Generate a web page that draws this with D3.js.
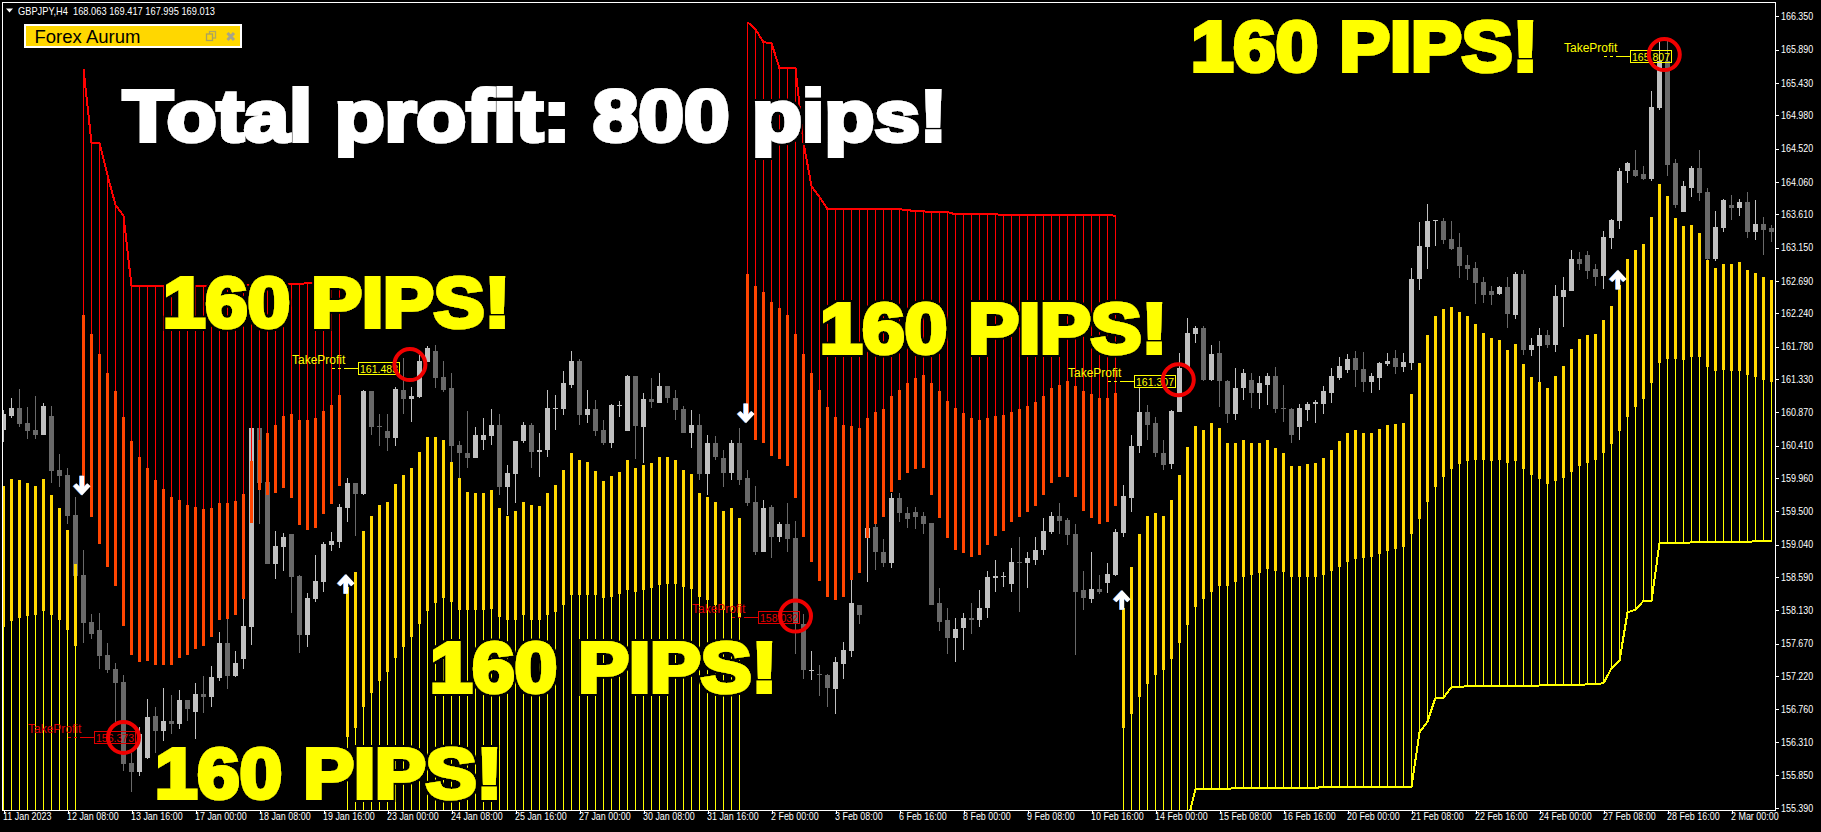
<!DOCTYPE html>
<html>
<head>
<meta charset="utf-8">
<style>
html,body{margin:0;padding:0;background:#000;overflow:hidden}
svg{display:block}
text{font-family:"Liberation Sans",Arial,sans-serif}
</style>
<script src="https://cdnjs.cloudflare.com/ajax/libs/d3/7.8.5/d3.min.js"></script>
</head>
<body>
<script>
const symbolTitle = "GBPJPY,H4  168.063 169.417 167.995 169.013";
const panelTitle = "Forex Aurum";
const mainCaption = "Total profit: 800 pips!";
const pipsCaption = "160 PIPS!";

const xTickBars = [0,8,16,24,32,40,48,56,64,72,80,88,96,104,112,120,128,136,144,152,160,168,176,184,192,200,208,216];
const xTickLabels = ["11 Jan 2023","12 Jan 08:00","13 Jan 16:00","17 Jan 00:00","18 Jan 08:00","19 Jan 16:00","23 Jan 00:00","24 Jan 08:00","25 Jan 16:00","27 Jan 00:00","30 Jan 08:00","31 Jan 16:00","2 Feb 00:00","3 Feb 08:00","6 Feb 16:00","8 Feb 00:00","9 Feb 08:00","10 Feb 16:00","14 Feb 00:00","15 Feb 08:00","16 Feb 16:00","20 Feb 00:00","21 Feb 08:00","22 Feb 16:00","24 Feb 00:00","27 Feb 08:00","28 Feb 16:00","2 Mar 00:00"];
const yTicks = [166.35,165.89,165.43,164.98,164.52,164.06,163.61,163.15,162.69,162.24,161.78,161.33,160.87,160.41,159.96,159.50,159.04,158.59,158.13,157.67,157.22,156.76,156.31,155.85,155.39];

const candleDirections = "uudddudddd"+"ddddddduud"+"udududuudu"+"uudduudduu"+"uuuududddu"+"duuudddddu"+"uuduuuduuu"+"uududduuud"+"ududddudud"+"dudddududd"+"dudduuudud"+"dudddddddu"+"uduuuuuduu"+"uudddduduu"+"uuuddduuuu"+"dudduuduud"+"dduuuuuuud"+"duuuduuuuu"+"dddddddudu"+"duuduuuddd"+"uuuudduudd"+"uudduudududd";

const highs = [
160.90,161.07,161.19,160.94,161.09,161.00,160.96,160.29,160.10,159.70,
158.96,158.08,158.09,157.68,157.40,157.23,156.15,156.51,156.90,156.79,
157.05,156.96,157.03,156.89,157.12,157.22,157.36,157.83,158.01,157.57,
158.29,160.65,160.65,160.07,159.23,159.20,159.18,158.62,158.37,158.89,
159.07,159.21,159.60,159.96,159.89,161.18,161.16,160.85,160.85,161.22,
161.62,161.22,161.66,161.79,161.80,161.58,161.41,160.47,160.89,160.66,
160.79,160.92,160.85,160.14,160.47,160.73,160.72,160.59,161.18,161.11,
161.44,161.72,161.61,161.18,161.04,160.76,160.99,161.03,161.38,161.37,
161.14,161.34,161.41,161.23,161.18,160.96,160.90,160.85,160.56,160.54,
160.35,160.48,160.65,160.07,159.85,159.65,159.59,159.35,159.61,159.37,
158.08,157.56,157.37,157.25,157.49,157.69,158.55,158.21,159.32,159.32,
159.11,159.75,159.75,159.56,159.56,159.49,159.34,158.44,158.16,158.02,
158.09,158.23,158.41,158.68,158.82,158.66,158.99,159.15,158.93,159.14,
159.41,159.49,159.62,159.41,159.32,158.68,158.93,158.62,158.79,159.25,
159.86,160.55,161.20,160.97,160.80,160.49,160.90,161.69,162.17,162.06,
162.06,161.80,161.85,161.32,161.48,161.47,161.42,161.37,161.42,161.49,
161.25,160.93,160.99,161.01,161.04,161.24,161.48,161.63,161.68,161.72,
161.70,161.42,161.56,161.69,161.73,161.69,162.87,163.50,163.75,163.53,
163.56,163.52,163.35,163.05,162.95,162.74,162.62,162.62,162.74,162.81,
162.84,161.90,162.04,162.01,162.63,162.74,163.12,163.09,163.10,162.92,
163.38,163.54,164.25,164.33,164.50,164.28,165.32,166.01,166.02,164.37,
164.07,164.28,164.50,163.97,163.65,163.82,163.88,163.82,163.92,163.81,163.57,163.46];

const bodyTops = [
160.85,160.93,160.93,160.72,160.62,160.96,160.82,160.07,160.00,159.45,
158.62,157.97,157.86,157.51,157.32,157.14,156.02,156.42,156.65,156.67,
156.60,156.60,156.89,156.89,156.97,156.97,157.21,157.68,157.68,157.40,
157.91,160.65,160.65,159.91,159.02,159.14,159.18,158.60,158.30,158.53,
159.05,159.09,159.56,159.89,159.89,161.16,161.16,160.68,160.61,161.19,
161.18,161.09,161.58,161.76,161.72,161.36,161.20,160.42,160.31,160.55,
160.55,160.70,160.70,160.03,160.47,160.69,160.69,160.35,160.93,160.93,
161.27,161.58,161.58,160.92,160.92,160.62,160.97,160.97,161.37,161.37,
161.06,161.06,161.23,161.23,161.07,160.92,160.69,160.69,160.45,160.45,
160.24,160.45,160.45,159.96,159.63,159.55,159.56,159.33,159.33,159.13,
157.94,157.31,157.25,157.24,157.41,157.58,158.23,158.21,159.27,159.28,
158.94,159.69,159.69,159.48,159.49,159.44,159.34,158.23,157.99,157.87,
158.03,158.03,158.16,158.59,158.61,158.61,158.80,158.80,158.85,158.97,
159.23,159.44,159.44,159.38,159.18,158.41,158.42,158.42,158.63,159.21,
159.71,160.41,160.87,160.87,160.72,160.31,160.89,161.48,161.97,162.03,
162.04,161.68,161.69,161.31,161.20,161.41,161.32,161.27,161.37,161.37,
160.93,160.92,160.93,160.99,161.01,161.16,161.37,161.51,161.61,161.62,
161.47,161.37,161.55,161.58,161.62,161.57,162.71,163.17,163.52,163.53,
163.52,163.27,163.16,162.91,162.87,162.67,162.55,162.60,162.60,162.78,
162.78,161.80,161.94,161.94,162.48,162.56,162.99,162.99,163.05,162.85,
163.30,163.53,164.21,164.32,164.22,164.17,165.09,165.73,165.73,164.32,
164.00,164.25,164.25,163.92,163.43,163.81,163.74,163.78,163.78,163.47,163.47,163.42];

const bodyBottoms = [
160.62,160.82,160.71,160.61,160.55,160.55,160.06,159.99,159.43,158.60,
157.95,157.80,157.50,157.30,157.12,156.00,155.89,155.89,156.08,156.46,
156.46,156.55,156.55,156.76,156.72,156.93,156.93,157.19,157.22,157.22,
157.45,157.90,159.89,158.77,158.77,159.00,158.59,157.79,157.79,158.28,
158.52,159.03,159.07,159.54,159.74,159.74,160.67,160.67,160.51,160.51,
161.05,161.05,161.08,161.57,161.34,161.18,160.41,160.30,160.24,160.24,
160.49,160.54,159.83,159.83,160.01,160.47,160.32,160.32,160.35,160.92,
160.92,161.25,160.83,160.83,160.61,160.44,160.44,160.96,160.61,160.68,
160.66,161.01,161.00,161.07,160.90,160.59,160.59,160.01,160.01,160.25,
160.03,160.03,159.94,159.62,158.94,158.94,159.15,159.15,159.11,157.94,
157.30,157.30,157.23,157.06,157.04,157.39,157.56,158.07,159.13,158.94,
158.79,158.79,159.47,159.40,159.42,159.32,158.21,157.97,157.75,157.75,
157.89,157.99,157.99,158.16,158.58,158.59,158.49,158.79,158.79,158.83,
158.96,159.21,159.37,159.17,158.39,158.30,158.28,158.38,158.51,158.62,
159.20,159.69,160.40,160.69,160.30,160.14,160.16,160.87,161.48,161.96,
161.32,161.32,161.31,160.85,160.85,161.20,161.14,161.14,161.25,160.92,
160.92,160.56,160.66,160.90,160.99,160.99,161.14,161.35,161.45,161.45,
161.29,161.29,161.34,161.54,161.50,161.50,161.55,162.71,163.16,163.52,
163.25,163.13,162.89,162.85,162.66,162.49,162.49,162.51,162.23,162.22,
161.73,161.73,161.79,161.80,161.80,162.46,162.55,162.92,162.82,162.74,
162.76,163.28,163.52,164.21,164.14,164.10,164.10,165.08,164.29,163.74,
163.64,163.97,163.90,162.99,162.99,163.42,163.70,163.70,163.36,163.36,163.39,163.36];

const lows = [
160.46,160.79,160.67,160.50,160.50,160.55,159.89,159.83,159.32,158.55,
157.68,157.73,157.32,157.26,156.58,155.90,155.61,155.84,156.07,156.15,
156.32,156.42,156.49,156.60,156.35,156.71,156.79,157.15,157.04,157.21,
157.32,157.65,159.32,158.77,158.56,158.67,158.09,157.54,157.62,158.24,
158.38,158.95,158.99,159.35,159.16,159.72,160.55,160.40,160.33,160.40,
160.85,160.73,161.07,161.57,161.21,161.15,160.17,159.96,160.10,160.24,
160.35,160.42,159.72,159.45,159.62,160.45,160.10,159.97,160.25,160.63,
160.83,161.21,160.70,160.72,160.54,160.42,160.38,160.80,160.61,160.23,
160.17,160.93,161.00,161.00,160.77,160.59,160.38,159.93,159.73,160.21,
159.83,159.93,159.87,159.58,158.89,158.94,158.86,159.08,158.94,157.53,
157.18,157.16,156.94,156.79,156.70,157.18,157.48,157.94,158.52,158.69,
158.73,158.72,159.35,159.27,159.25,159.18,158.21,157.85,157.52,157.41,
157.58,157.80,157.90,158.02,158.38,158.45,158.39,158.10,158.44,158.75,
158.89,159.18,159.18,159.03,157.51,158.14,158.23,158.35,158.37,158.61,
159.14,159.49,160.31,160.49,160.25,160.07,160.09,160.87,161.48,161.83,
161.30,161.30,160.94,160.72,160.76,161.04,160.93,160.92,160.97,160.86,
160.73,160.45,160.48,160.75,160.72,160.85,161.00,161.32,161.42,161.22,
161.15,161.14,161.18,161.51,161.40,161.43,161.45,162.56,162.85,163.17,
163.20,163.12,162.73,162.70,162.37,162.38,162.35,162.49,162.04,162.16,
161.66,161.65,161.29,161.76,161.70,162.05,162.55,162.84,162.71,162.62,
162.58,163.13,163.41,164.04,164.13,164.08,164.07,165.05,164.14,163.70,
163.64,163.85,163.79,162.97,162.97,163.36,163.53,163.59,163.28,163.25,163.05,163.23];

// Indicator: uptrend run A (bars 0-9)
const runAStart = 0;
const runATop = [159.85,159.95,159.93,159.89,159.85,159.95,159.72,159.54,159.24,158.77];
const runABottom = [157.90,157.98,158.02,158.05,158.06,158.12,158.06,157.99,157.86,157.63];

// Indicator: downtrend run B (bars 10-42)
const runBStart = 10;
const runBStop = [165.62,164.60,164.60,164.15,163.74,163.59,162.62,162.62,162.62,162.62,162.62,162.62,162.62,162.62,162.62,162.62,162.63,162.63,162.63,162.63,162.63,162.63,162.63,162.64,162.64,162.64,162.64,162.64,162.66,162.66,162.66,162.66,162.66];
const runBTop = [162.22,161.95,161.68,161.41,161.16,160.80,160.47,160.25,160.10,159.93,159.81,159.70,159.66,159.59,159.56,159.53,159.54,159.61,159.61,159.64,159.74,160.19,160.49,160.58,160.69,160.82,160.85,160.76,160.76,160.79,160.89,160.97,161.11];
const runBBottom = [159.82,159.42,159.05,158.73,158.47,157.91,157.51,157.41,157.43,157.37,157.37,157.37,157.47,157.51,157.59,157.63,157.76,157.99,158.01,158.06,158.29,159.34,159.79,159.72,159.75,159.82,159.68,159.31,159.24,159.27,159.46,159.60,159.85];

// Indicator: uptrend run C (bars 43-92)
const runCStart = 43;
const runCTop = [158.45,158.66,159.23,159.44,159.59,159.63,159.88,160.00,160.10,160.32,160.53,160.53,160.49,160.18,159.96,159.77,159.76,159.75,159.80,159.55,159.44,159.51,159.63,159.59,159.58,159.75,159.87,160.07,160.31,160.21,160.18,160.06,159.92,159.99,160.04,160.21,160.10,160.14,160.17,160.25,160.25,160.21,160.07,160.01,159.75,159.70,159.63,159.51,159.55,159.41];
const runCBottom = [156.37,156.50,156.79,156.98,157.15,157.27,157.47,157.62,157.76,157.94,158.12,158.23,158.30,158.25,158.14,158.13,158.14,158.14,158.15,158.04,157.99,157.99,158.06,158.00,157.99,158.06,158.11,158.21,158.34,158.34,158.34,158.34,158.30,158.32,158.35,158.41,158.38,158.41,158.44,158.48,158.49,158.49,158.45,158.42,158.31,158.27,158.21,158.13,158.13,158.04];

// Indicator: downtrend run D (bars 93-139)
const runDStart = 93;
const runDStop = [166.27,166.17,165.99,165.98,165.63,165.63,165.63,164.60,164.00,163.85,163.68,163.68,163.68,163.68,163.68,163.68,163.68,163.68,163.68,163.68,163.67,163.65,163.65,163.64,163.64,163.64,163.61,163.61,163.61,163.61,163.61,163.61,163.60,163.60,163.60,163.60,163.60,163.60,163.60,163.60,163.60,163.60,163.60,163.60,163.60,163.60,163.59];
const runDTop = [162.79,162.62,162.53,162.40,162.31,162.22,161.96,161.68,161.41,161.18,160.94,160.80,160.69,160.68,160.65,160.79,160.87,160.92,161.09,161.18,161.27,161.34,161.38,161.28,161.17,161.03,160.93,160.86,160.79,160.76,160.79,160.82,160.83,160.87,160.92,160.96,161.01,161.10,161.20,161.25,161.31,161.24,161.17,161.13,161.07,161.07,161.14];
const runDBottom = [160.85,160.48,160.44,160.27,160.23,160.13,159.68,159.15,158.80,158.53,158.31,158.27,158.31,158.55,158.65,159.13,159.32,159.42,159.77,159.93,160.03,160.08,160.10,159.73,159.41,159.13,158.96,158.92,158.87,158.89,159.04,159.16,159.23,159.35,159.42,159.49,159.58,159.72,159.89,159.97,159.97,159.70,159.51,159.41,159.32,159.35,159.58];

// Indicator: uptrend run E (bars 140-221)
const runEStart = 140;
const runETop = [158.16,158.73,159.18,159.44,159.47,159.44,159.66,160.00,160.39,160.68,160.63,160.72,160.65,160.45,160.44,160.49,160.45,160.45,160.49,160.38,160.30,160.13,160.13,160.16,160.17,160.24,160.35,160.47,160.59,
160.62,160.58,160.58,160.64,160.69,160.71,160.72,161.12,161.55,161.94,162.20,162.30,162.33,162.26,162.20,162.09,161.97,161.90,161.87,161.73,161.81,161.54,161.36,161.29,161.20,161.37,161.51,161.75,161.88,161.94,161.95,162.15,162.34,162.63,162.99,163.12,163.20,163.57,164.03,163.86,163.56,163.45,163.46,163.35,162.98,162.87,162.92,162.92,162.95,162.84,162.80,162.74,162.70];
const runEBottom = [156.50,156.69,156.93,157.11,157.23,157.31,157.46,157.68,157.93,158.17,158.28,158.39,158.46,158.46,158.52,158.59,158.62,158.65,158.70,158.68,158.66,158.59,158.59,158.59,158.59,158.62,158.68,158.73,158.80,
158.84,158.85,158.87,158.91,158.95,158.98,159.00,159.18,159.39,159.63,159.84,159.97,160.08,160.15,160.19,160.21,160.21,160.19,160.21,160.17,160.19,160.08,160.00,159.95,159.88,159.92,159.96,160.04,160.12,160.17,160.21,160.31,160.43,160.61,160.80,160.94,161.05,161.27,161.55,161.61,161.61,161.59,161.63,161.63,161.50,161.44,161.45,161.44,161.44,161.39,161.36,161.32,161.29];
const runEStop = [155.20,155.20,155.20,155.20,155.20,155.20,155.20,155.20,155.20,155.66,155.66,155.66,155.66,155.66,155.67,155.67,155.67,155.67,155.67,155.67,155.67,155.67,155.67,155.67,155.67,155.69,155.69,155.69,155.69,155.69,155.69,155.69,155.69,155.69,155.69,155.69,
155.69,156.44,156.59,156.92,156.92,157.07,157.07,157.08,157.08,157.08,157.08,157.08,157.08,157.08,157.08,157.08,157.09,157.09,157.09,157.09,157.09,157.09,157.11,157.11,157.12,157.33,157.43,158.10,158.14,158.26,158.26,159.06,159.06,159.06,159.06,159.07,159.07,159.07,159.07,159.07,159.07,159.07,159.07,159.09,159.09,159.09];
const offChartStop = 155.20;

// Trend arrows
const arrowBars = [10,43,93,140,202];
const arrowPrices = [159.86,158.49,160.86,158.27,162.70];
const arrowUp = [false,true,false,true,true];

// Take-profit labels
const tpLabels = ["156.373","161.483","158.032","161.307","165.807"];
const tpBars = [11,44,94,141,203];
const tpIsRed = [true,false,true,false,false];
const circleBars = [15,50.8,99,146.85,207.6];
const circlePrices = [156.37,161.53,158.05,161.32,165.82];

const n = candleDirections.length;
[highs,bodyTops,bodyBottoms,lows].forEach(a=>{ if(a.length!==n) throw new Error("len "+a.length+" vs "+n); });

const W=1821,H=832;
const plotL=3,plotT=3,plotR=1775,plotB=810;
const x=d3.scaleLinear().domain([0,221]).range([3.5,1771.5]);
const y=d3.scaleLinear().domain([155.39,166.35]).range([808.3,16.3]);
const py=v=>Math.round(y(v));

const svg=d3.select("body").append("svg").attr("width",W).attr("height",H).style("background","#000");
const defs=svg.append("defs");
defs.append("clipPath").attr("id","plot").append("rect")
  .attr("x",plotL).attr("y",plotT).attr("width",plotR-plotL).attr("height",plotB-plotT);
const halo=defs.append("filter").attr("id","halo").attr("x","-5%").attr("y","-20%").attr("width","110%").attr("height","140%");
halo.append("feMorphology").attr("in","SourceAlpha").attr("operator","dilate").attr("radius",1.6).attr("result","fat");
halo.append("feFlood").attr("flood-color","#000").attr("result","blk");
halo.append("feComposite").attr("in","blk").attr("in2","fat").attr("operator","in").attr("result","edge");
const merge=halo.append("feMerge");
merge.append("feMergeNode").attr("in","edge");
merge.append("feMergeNode").attr("in","SourceGraphic");

const plot=svg.append("g").attr("clip-path","url(#plot)").attr("shape-rendering","crispEdges");

// Candles
const bars=d3.range(n);
const candles=plot.append("g");
const shade=i=>candleDirections[i]==="u"?"#C0C0C0":"#696969";
candles.selectAll("line").data(bars).join("line")
  .attr("x1",x).attr("x2",x)
  .attr("y1",i=>py(highs[i])).attr("y2",i=>py(lows[i]))
  .attr("stroke",shade).attr("stroke-width",1);
candles.selectAll("rect").data(bars).join("rect")
  .attr("x",i=>x(i)-2.5).attr("width",5)
  .attr("y",i=>py(bodyTops[i]))
  .attr("height",i=>Math.max(1,py(bodyBottoms[i])-py(bodyTops[i])))
  .attr("fill",shade);

// Indicator runs
function drawRun(start,tops,bottoms,stops,thickColor,thinColor,lineColor,isUp){
  const g=plot.append("g");
  const idx=d3.range(tops.length);
  const X=k=>x(start+k);
  g.selectAll("line.thin").data(idx).join("line").attr("class","thin")
    .attr("x1",X).attr("x2",X)
    .attr("y1",k=>py(isUp?bottoms[k]:tops[k]))
    .attr("y2",k=>py(stops?stops[k]:offChartStop))
    .attr("stroke",thinColor).attr("stroke-width",1);
  g.selectAll("rect").data(idx).join("rect")
    .attr("x",k=>X(k)-1.5).attr("width",3)
    .attr("y",k=>py(tops[k]))
    .attr("height",k=>py(bottoms[k])-py(tops[k]))
    .attr("fill",thickColor);
  if(stops){
    const ln=d3.line().x((d,k)=>X(k)).y(d=>y(d));
    g.append("path").attr("d",ln(stops)).attr("fill","none").attr("stroke",lineColor).attr("stroke-width",2);
  }
}
const GOLD="#FFD700",ORANGE="#FF4500",RED="#FF0000",YELLOW="#FFFF00";
drawRun(runAStart,runATop,runABottom,null,GOLD,YELLOW,YELLOW,true);
drawRun(runBStart,runBTop,runBBottom,runBStop,ORANGE,RED,RED,false);
drawRun(runCStart,runCTop,runCBottom,null,GOLD,YELLOW,YELLOW,true);
drawRun(runDStart,runDTop,runDBottom,runDStop,ORANGE,RED,RED,false);
drawRun(runEStart,runETop,runEBottom,runEStop,GOLD,YELLOW,YELLOW,true);

// Frame
const frame=svg.append("g").attr("shape-rendering","crispEdges");
frame.append("path").attr("d",`M2.5,811V2.5H1775.5V811`).attr("fill","none").attr("stroke","#fff");
frame.append("path").attr("d",`M2.5,810.5H1775.5`).attr("fill","none").attr("stroke","#fff");

function narrow(sel,factor){
  sel.each(function(){
    const len=this.getComputedTextLength();
    d3.select(this).attr("textLength",len*factor).attr("lengthAdjust","spacingAndGlyphs");
  });
}

// Axes
const yAxis=d3.axisRight(y).tickValues(yTicks).tickFormat(d3.format(".3f")).tickSize(4).tickPadding(2);
const yG=svg.append("g").attr("transform",`translate(${plotR},0)`).call(yAxis);
yG.select(".domain").remove();
yG.selectAll("line").attr("stroke","#fff").attr("shape-rendering","crispEdges");
yG.selectAll("text").attr("fill","#fff").attr("font-family","Liberation Sans").attr("font-size",10.5).call(narrow,0.85);

const xAxis=d3.axisBottom(x).tickValues(xTickBars).tickFormat((d,i)=>xTickLabels[i]).tickSize(4).tickPadding(0);
const xG=svg.append("g").attr("transform",`translate(0,${plotB})`).call(xAxis);
xG.select(".domain").remove();
xG.selectAll("line").attr("stroke","#fff").attr("shape-rendering","crispEdges");
xG.selectAll("text").attr("fill","#fff").attr("font-family","Liberation Sans").attr("font-size",10.5)
  .attr("text-anchor","start").attr("dx",-1).attr("dy","0.55em").call(narrow,0.85);

// Arrows
const arrows=svg.append("g");
arrowBars.forEach((b,k)=>{
  const cx=x(b)-1.5, cy=y(arrowPrices[k]), s=arrowUp[k]?-1:1;
  const a=arrows.append("g").attr("transform",`translate(${cx},${cy}) scale(1,${s})`);
  const d="M0,-9.5V7 M-7,-0.5L0,7L7,-0.5";
  a.append("path").attr("d",d).attr("transform","translate(-1,0)").attr("fill","none").attr("stroke","#5aa0ff").attr("stroke-width",4);
  a.append("path").attr("d",d).attr("fill","none").attr("stroke","#fff").attr("stroke-width",4.4);
});

// Take profit boxes
const tp=svg.append("g");
tpLabels.forEach((lab,k)=>{
  const col=tpIsRed[k]?"#E00000":YELLOW;
  const bx=Math.round(x(tpBars[k])+2.8), by=Math.round(y(+lab));
  const g=tp.append("g");
  g.append("text").text("TakeProfit").attr("x",bx-66).attr("y",by-4).attr("fill",col).attr("font-size",12);
  g.append("path").attr("d",`M${bx-26},${by+.5}H${bx-12}`).attr("stroke",col).attr("stroke-dasharray","3 3").attr("shape-rendering","crispEdges");
  g.append("path").attr("d",`M${bx-12},${by+.5}H${bx}`).attr("stroke",col).attr("shape-rendering","crispEdges");
  g.append("rect").attr("x",bx+.5).attr("y",by-5.5).attr("width",41).attr("height",12).attr("fill","none").attr("stroke",col).attr("shape-rendering","crispEdges");
  g.append("text").text(lab).attr("x",bx+2).attr("y",by+4.5).attr("fill",col).attr("font-size",11.5).attr("textLength",38).attr("lengthAdjust","spacingAndGlyphs");
});

// Header
svg.append("path").attr("d","M6,8.5H13L9.5,12.5Z").attr("fill","#fff");
svg.append("text").text(symbolTitle).attr("x",18).attr("y",14.5).attr("fill","#fff").attr("font-size",11).attr("textLength",197).attr("lengthAdjust","spacingAndGlyphs").style("white-space","pre");

// Panel
const panel=svg.append("g");
panel.append("rect").attr("x",25).attr("y",25).attr("width",216).attr("height",22).attr("fill","#FFD700").attr("stroke","#fff").attr("stroke-width",2).attr("shape-rendering","crispEdges");
panel.append("text").text(panelTitle).attr("x",34.5).attr("y",42.5).attr("fill","#000").attr("font-size",18.5);
panel.append("rect").attr("x",209.5).attr("y",31.5).attr("width",6).attr("height",6.5).attr("fill","none").attr("stroke","#b0a860").attr("stroke-width",1.3);
panel.append("rect").attr("x",206.5).attr("y",34).attr("width",6).attr("height",6.5).attr("fill","#FFD700").attr("stroke","#a8a060").attr("stroke-width",1.3);
panel.append("path").attr("d","M227.5,33L234,40M234,33L227.5,40").attr("stroke","#a8a488").attr("stroke-width",3);

// Circles
const circles=svg.append("g");
circles.selectAll("circle").data(d3.range(circleBars.length)).join("circle")
  .attr("cx",k=>x(circleBars[k])).attr("cy",k=>y(circlePrices[k])).attr("r",15.5)
  .attr("fill","none").attr("stroke","#F00000").attr("stroke-width",4);

// Big captions
function bigText(str,left,base,size,len,fill){
  svg.append("text").text(str).attr("x",left).attr("y",base).attr("font-size",size).attr("font-weight","bold")
    .attr("textLength",len).attr("lengthAdjust","spacingAndGlyphs")
    .attr("fill",fill).attr("stroke",fill).attr("stroke-width",4).attr("stroke-linejoin","miter")
    .attr("filter","url(#halo)");
}
bigText(mainCaption,123,141,73,824,"#fff");
const pipX=[1191,163,820,430,155], pipY=[71,327,353,692,798];
pipX.forEach((px,k)=>bigText(pipsCaption,px,pipY[k],70,347,YELLOW));
</script>
</body>
</html>
